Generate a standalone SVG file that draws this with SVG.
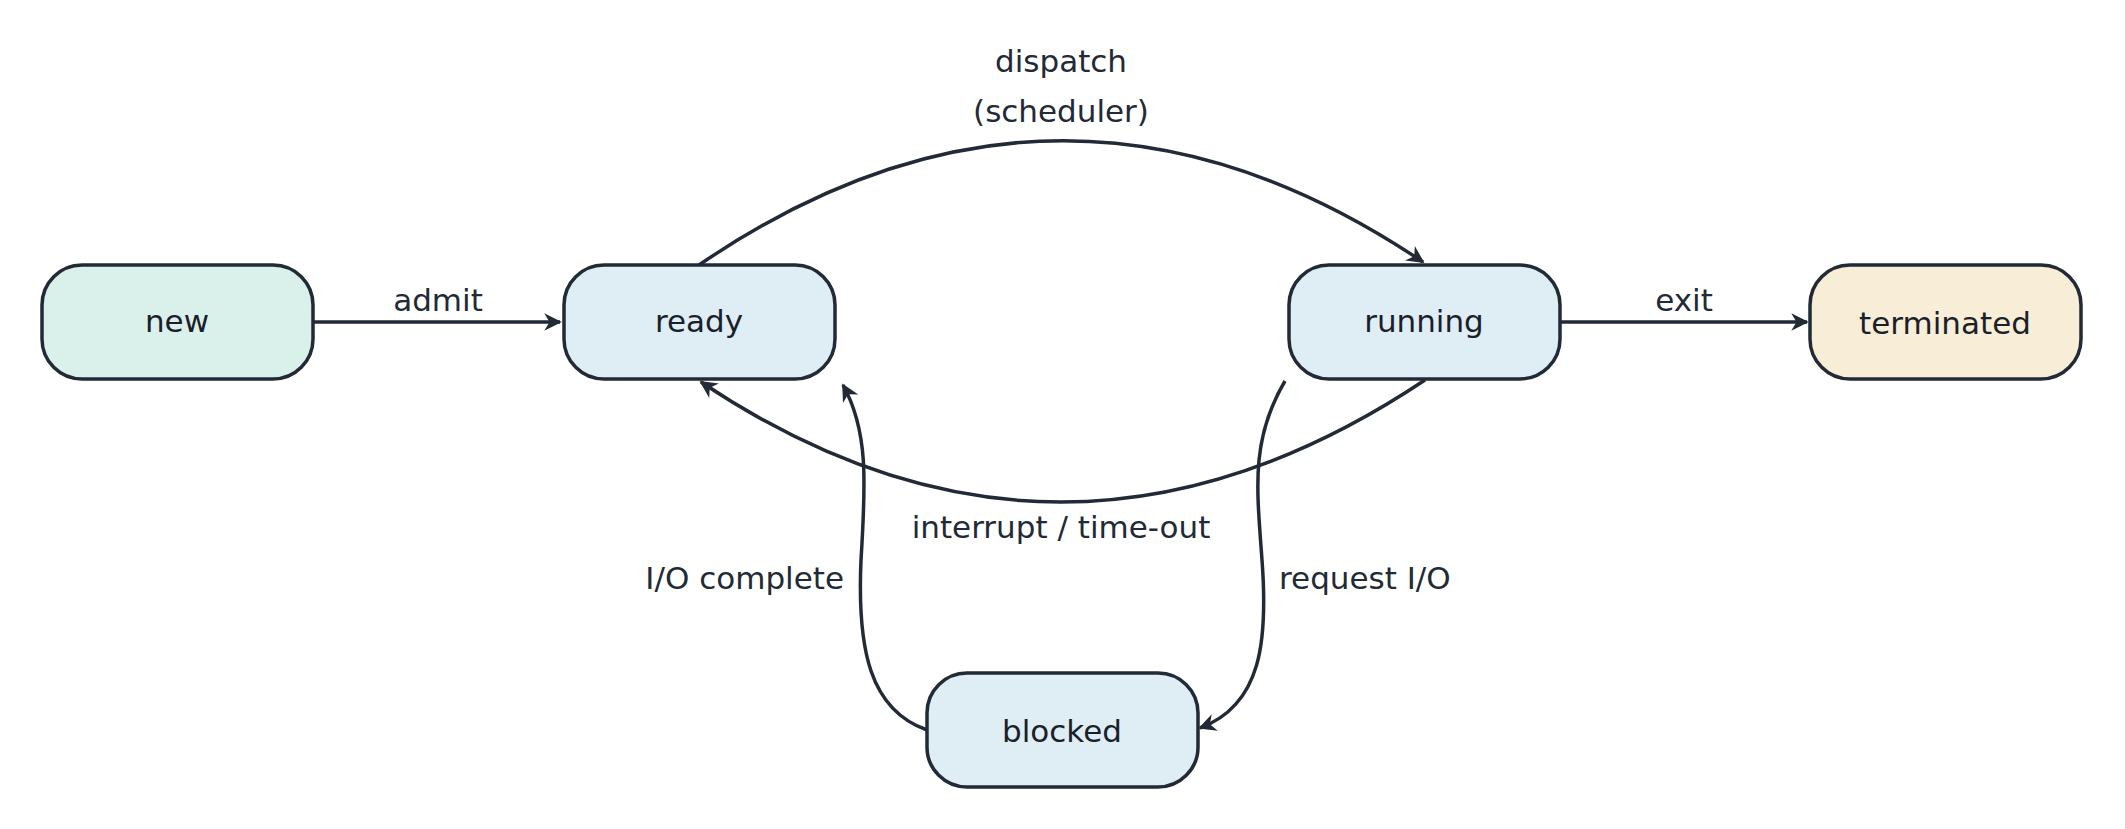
<svg xmlns="http://www.w3.org/2000/svg" width="2125" height="829" viewBox="0 0 2125 829">
<style>
.n{stroke:#222a36;stroke-width:3.5}
.t{font-family:"DejaVu Sans","Liberation Sans",sans-serif;font-size:31px;fill:#1b1f2a;text-anchor:middle}
.l{font-family:"DejaVu Sans","Liberation Sans",sans-serif;font-size:31px;fill:#222a36}
.c{fill:none;stroke:#222a36;stroke-width:3.5}
</style>
<defs>
<marker id="a" viewBox="0 0 12 12" refX="10" refY="6" markerWidth="6" markerHeight="6" orient="auto" markerUnits="strokeWidth">
<path d="M1,1 L11,6 L1,11 L4,6 Z" fill="#222a36"/>
</marker>
</defs>
<rect width="2125" height="829" fill="#fff"/>
<g id="connectors">
<path class="c" d="M313,322 L560,322" marker-end="url(#a)"/>
<path class="c" d="M1560,322 L1807,322" marker-end="url(#a)"/>
<path class="c" d="M699,265 Q1061,18 1423,262" marker-end="url(#a)"/>
<path class="c" d="M1425,380 Q1061,623 701,382" marker-end="url(#a)"/>
<path class="c" d="M1285,381 C1250,440 1257,490 1262,560 C1268,640 1262,705 1200,728" marker-end="url(#a)"/>
<path class="c" d="M927,730 C870,710 857,650 861,560 C866,480 868,430 843,385" marker-end="url(#a)"/>
<text class="l" x="438" y="311" text-anchor="middle">admit</text>
<text class="l" x="1684" y="311" text-anchor="middle">exit</text>
<text class="l" x="1061" y="72" text-anchor="middle">dispatch</text>
<text class="l" x="1061" y="122" text-anchor="middle">(scheduler)</text>
<text class="l" x="1061" y="538" text-anchor="middle">interrupt / time-out</text>
<text class="l" x="844" y="589" text-anchor="end">I/O complete</text>
<text class="l" x="1279" y="589">request I/O</text>
</g>
<g id="new"><rect class="n" x="42" y="265" width="271" height="114" rx="40" fill="#daf0ea"/><text class="t" x="177" y="332">new</text></g>
<g id="ready"><rect class="n" x="564" y="265" width="271" height="114" rx="40" fill="#dfedf5"/><text class="t" x="699" y="332">ready</text></g>
<g id="running"><rect class="n" x="1289" y="265" width="271" height="114" rx="40" fill="#dfedf5"/><text class="t" x="1424" y="332">running</text></g>
<g id="terminated"><rect class="n" x="1810" y="265" width="271" height="114" rx="40" fill="#f8eed8"/><text class="t" x="1945" y="334">terminated</text></g>
<g id="blocked"><rect class="n" x="927" y="673" width="271" height="114" rx="40" fill="#dfedf5"/><text class="t" x="1062" y="742">blocked</text></g>
</svg>
